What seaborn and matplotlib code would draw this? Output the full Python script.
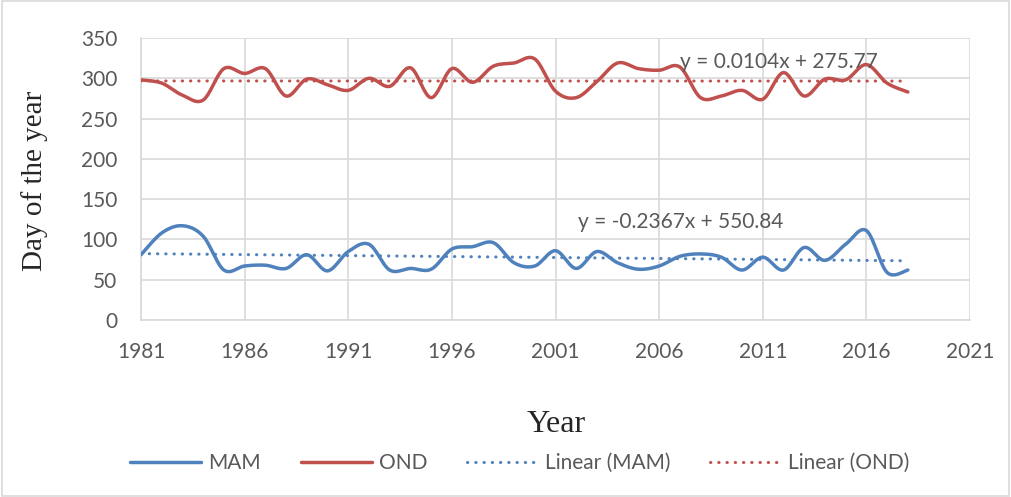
import numpy as np
import pandas as pd
import matplotlib
matplotlib.use("Agg")
import matplotlib.pyplot as plt
import seaborn as sns
from matplotlib.lines import Line2D
from matplotlib.patches import Rectangle

# ---------------- data ----------------
years = list(range(1981, 2019))
mam = [81, 108, 117, 104, 62, 67, 68, 64, 81, 61,
       85, 94, 62, 64, 63, 88, 91, 96, 71, 67,
       86, 64, 85, 71, 63, 67, 79, 82, 78, 62,
       78, 62, 90, 74, 94, 111, 59, 62]
ond = [298, 294, 279, 273, 312, 306, 312, 278, 299, 292,
       285, 300, 290, 313, 276, 312, 295, 315, 319, 324,
       284, 276, 296, 319, 312, 310, 314, 276, 278, 285,
       274, 307, 278, 299, 298, 317, 294, 283]
series_labels = ["MAM", "OND", "Linear (MAM)", "Linear (OND)"]
eq_mam = "y = -0.2367x + 550.84"
eq_ond = "y = 0.0104x + 275.77"
x_ticks = [1981, 1986, 1991, 1996, 2001, 2006, 2011, 2016, 2021]
y_ticks = [0, 50, 100, 150, 200, 250, 300, 350]
x_title = "Year"
y_title = "Day of the year"

BLUE = "#4F81BD"
RED = "#C0504D"
GRID = "#D9D9D9"
TXT = "#595959"


def smooth_path(x, y, n=24):
    """Excel-like smoothed rendering path (Catmull-Rom) through the points."""
    x = np.asarray(x, float)
    y = np.asarray(y, float)
    xp = np.concatenate([[x[0]], x, [x[-1]]])
    yp = np.concatenate([[y[0]], y, [y[-1]]])
    t = np.linspace(0, 1, n, endpoint=False)
    h00 = 2 * t**3 - 3 * t**2 + 1
    h10 = t**3 - 2 * t**2 + t
    h01 = -2 * t**3 + 3 * t**2
    h11 = t**3 - t**2
    xs, ys = [], []
    for i in range(len(x) - 1):
        j = i + 1
        mx0 = (xp[j + 1] - xp[j - 1]) / 2
        mx1 = (xp[j + 2] - xp[j]) / 2
        my0 = (yp[j + 1] - yp[j - 1]) / 2
        my1 = (yp[j + 2] - yp[j]) / 2
        xs.append(h00 * xp[j] + h10 * mx0 + h01 * xp[j + 1] + h11 * mx1)
        ys.append(h00 * yp[j] + h10 * my0 + h01 * yp[j + 1] + h11 * my1)
    xs.append([x[-1]])
    ys.append([y[-1]])
    return np.concatenate(xs), np.concatenate(ys)


sns.set_theme(style="white")
plt.rcParams["font.family"] = ["Lato", "DejaVu Sans"]

fig = plt.figure(figsize=(10.11, 4.97), dpi=100)
ax = fig.add_axes([141 / 1011, 1 - 320 / 497, (970 - 141) / 1011, (320 - 38) / 497])

# smoothed series
for vals, color in [(mam, BLUE), (ond, RED)]:
    sx, sy = smooth_path(years, vals)
    df = pd.DataFrame({"x": sx, "y": sy})
    sns.lineplot(data=df, x="x", y="y", sort=False, estimator=None, ax=ax,
                 color=color, linewidth=2.5, solid_capstyle="round", zorder=3)

# linear trends fitted from the data
dot = (0, (0.1, 2.6))
for vals, color in [(mam, BLUE), (ond, RED)]:
    coef = np.polyfit(years, vals, 1)
    tdf = pd.DataFrame({"x": years, "y": np.polyval(coef, years)})
    sns.lineplot(data=tdf, x="x", y="y", ax=ax, color=color, linewidth=2.2,
                 linestyle=dot, dash_capstyle="round", zorder=4)

ax.set_xlim(1981, 2021)
ax.set_ylim(0, 350)
ax.set_xticks(x_ticks)
ax.set_yticks(y_ticks)
ax.grid(True, color=GRID, linewidth=1.2, zorder=0)
for s in ["top", "right"]:
    ax.spines[s].set_visible(False)
for s in ["left", "bottom"]:
    ax.spines[s].set_color(GRID)
    ax.spines[s].set_linewidth(1.2)
ax.tick_params(axis="both", colors=TXT, labelsize=15, length=0)
ax.tick_params(axis="y", pad=17)
ax.tick_params(axis="x", pad=16)
ax.set_xlabel("")
ax.set_ylabel("")

fig.text(35 / 1011, 1 - 181 / 497, y_title, rotation=90, ha="center", va="center",
         family="Liberation Serif", fontsize=21, color="#262626")
fig.text(556 / 1011, 1 - 425 / 497, x_title, ha="center", va="center",
         family="Liberation Serif", fontsize=23, color="#262626")

ax.text(2007.0, 320, eq_ond, ha="left", va="center", fontsize=15, color=TXT, zorder=5)
ax.text(2002.1, 121.5, eq_mam, ha="left", va="center", fontsize=15, color=TXT, zorder=5)

handles = [
    Line2D([], [], color=BLUE, linewidth=2.5),
    Line2D([], [], color=RED, linewidth=2.5),
    Line2D([], [], color=BLUE, linewidth=2.2, linestyle=dot, dash_capstyle="round"),
    Line2D([], [], color=RED, linewidth=2.2, linestyle=dot, dash_capstyle="round"),
]
fig.legend(handles, series_labels, loc="center", bbox_to_anchor=(520 / 1011, 1 - 463 / 497),
           ncol=4, frameon=False, fontsize=15, handlelength=3.4, columnspacing=1.9,
           handletextpad=0.35, labelcolor=TXT)

fig.patches.append(Rectangle((0.002, 0.003), 0.996, 0.994, transform=fig.transFigure,
                             fill=False, edgecolor=GRID, linewidth=1.2))

fig.savefig("out.png", dpi=100)
